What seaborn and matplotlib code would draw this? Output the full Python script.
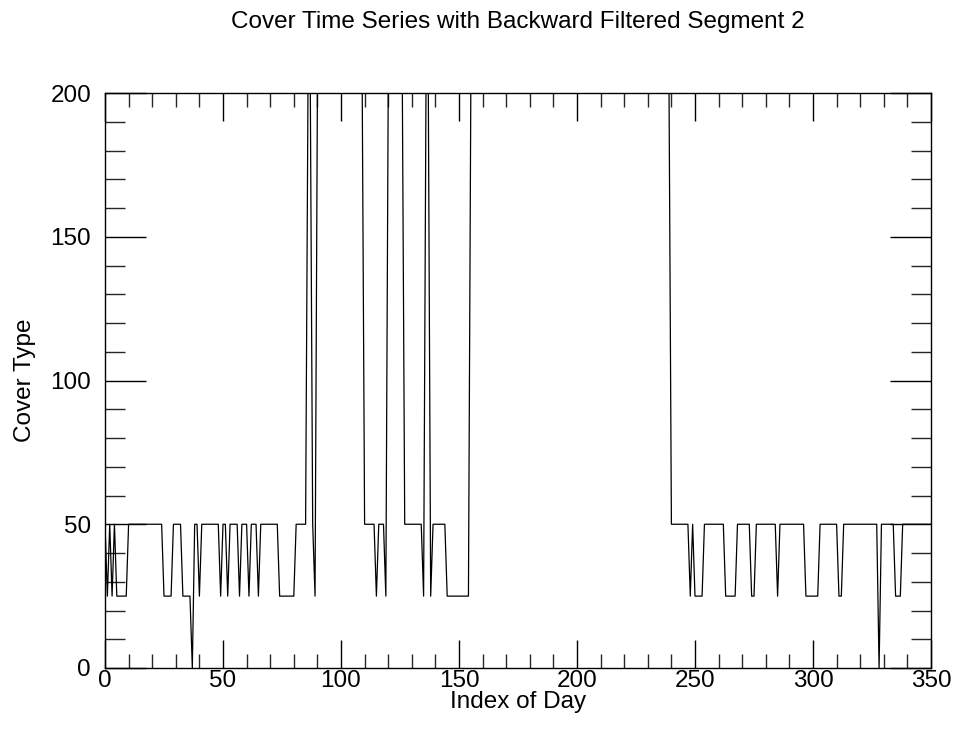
import matplotlib
matplotlib.use("Agg")
import matplotlib.pyplot as plt
from matplotlib.ticker import MultipleLocator
import pandas as pd
import seaborn as sns

# Vertices of the cover-type time series (day index, cover value)
day = [0, 1, 2, 3, 4, 5, 9, 10, 24, 25, 28, 29, 32, 33, 36, 37, 38, 39, 40, 41,
       48, 49, 50, 51, 52, 53, 56, 57, 58, 60, 61, 62, 64, 65, 66, 73, 74, 80, 81,
       85, 86, 87, 88, 89, 90, 109, 110, 114, 115, 116, 118, 119, 120, 126, 127,
       134, 135, 136, 137, 138, 139, 144, 145, 154, 155, 239, 240, 247, 248, 249,
       250, 253, 254, 262, 263, 267, 268, 273, 274, 275, 276, 284, 285, 286, 296,
       297, 302, 303, 310, 311, 312, 313, 327, 328, 329, 334, 335, 337, 338, 350]
cover = [50, 25, 50, 25, 50, 25, 25, 50, 50, 25, 25, 50, 50, 25, 25, 0, 50, 50, 25, 50,
         50, 25, 50, 50, 25, 50, 50, 25, 50, 50, 25, 50, 50, 25, 50, 50, 25, 25, 50,
         50, 200, 200, 50, 25, 200, 200, 50, 50, 25, 50, 50, 25, 200, 200, 50,
         50, 25, 200, 200, 25, 50, 50, 25, 25, 200, 200, 50, 50, 25, 50,
         25, 25, 50, 50, 25, 25, 50, 50, 25, 25, 50, 50, 25, 50, 50,
         25, 25, 50, 50, 25, 25, 50, 50, 0, 50, 50, 25, 25, 50, 50]

x_ticks = [0, 50, 100, 150, 200, 250, 300, 350]
y_ticks = [0, 50, 100, 150, 200]

title = "Cover Time Series with Backward Filtered Segment 2"
x_label = "Index of Day"
y_label = "Cover Type"

df = pd.DataFrame({"day": day, "cover": cover})

sns.set_theme(style="ticks")
plt.rcParams["font.family"] = ["Liberation Sans", "DejaVu Sans"]
plt.rcParams["axes.linewidth"] = 1.0
plt.rcParams["text.color"] = "black"

fig = plt.figure(figsize=(9.54, 7.35), dpi=100)
ax = fig.add_axes([105 / 954, 1 - 668 / 735, (931 - 105) / 954, (668 - 93) / 735])

sns.lineplot(data=df, x="day", y="cover", ax=ax, color="black", linewidth=0.9,
             estimator=None, sort=False, legend=False)

ax.set_xlim(0, 350)
ax.set_ylim(0, 200)
ax.set_xticks(x_ticks)
ax.set_yticks(y_ticks)
ax.xaxis.set_minor_locator(MultipleLocator(10))
ax.yaxis.set_minor_locator(MultipleLocator(10))

fs = 17.5
ax.tick_params(axis="x", which="major", direction="in", length=20.5, width=1.0,
               top=True, bottom=True, pad=1.5, labelsize=fs, colors="black")
ax.tick_params(axis="x", which="minor", direction="in", length=10.2, width=1.0,
               top=True, bottom=True)
ax.tick_params(axis="y", which="major", direction="in", length=29.7, width=1.0,
               left=True, right=True, pad=10, labelsize=fs, colors="black")
ax.tick_params(axis="y", which="minor", direction="in", length=14.5, width=1.0,
               left=True, right=True)
for s in ax.spines.values():
    s.set_color("black")
    s.set_visible(True)

ax.set_xlabel(x_label, fontsize=fs, labelpad=-1, color="black")
ax.set_ylabel(y_label, fontsize=fs, labelpad=10, color="black")
fig.text(518 / 954, 1 - 22 / 735, title, ha="center", va="center", fontsize=fs)

fig.savefig("out.png", dpi=100, facecolor="white")
